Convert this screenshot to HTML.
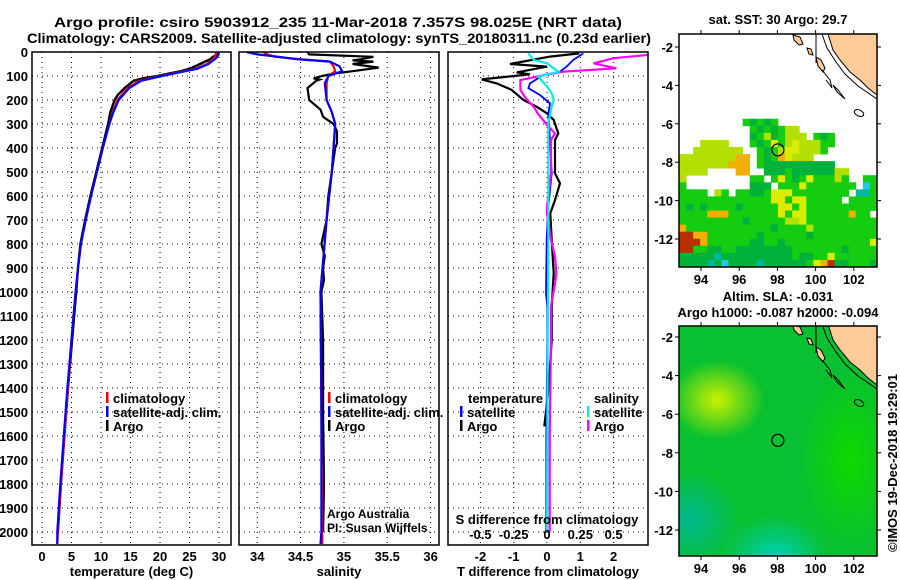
<!DOCTYPE html>
<html><head><meta charset="utf-8"><style>
body{margin:0;background:#fff}
svg{display:block}
text{font-family:"Liberation Sans",Arial,sans-serif;font-weight:bold;fill:#000}
</style></head><body>
<svg id="c" width="900" height="580" viewBox="0 0 900 580" xmlns="http://www.w3.org/2000/svg">
<text x="338" y="27" font-size="14" text-anchor="middle" textLength="568" lengthAdjust="spacingAndGlyphs">Argo profile: csiro 5903912_235 11-Mar-2018 7.357S 98.025E (NRT data)</text>
<text x="339" y="43" font-size="14" text-anchor="middle" textLength="624" lengthAdjust="spacingAndGlyphs">Climatology: CARS2009. Satellite-adjusted climatology: synTS_20180311.nc (0.23d earlier)</text>
<g id="g"></g>
</svg>
<script>
// ---------- data ----------
const depthTicks=[0,100,200,300,400,500,600,700,800,900,1000,1100,1200,1300,1400,1500,1600,1700,1800,1900,2000];
const tempTicks=[0,5,10,15,20,25,30];
const salTicks=[34,34.5,35,35.5,36];
const tdTicks=[-2,-1,0,1,2];
const sdTickLabels=["-0.5","-0.25","0","0.25","0.5"];
const sdTicks=[-0.5,-0.25,0,0.25,0.5];

const depthArgoT=[0,10,20,30,50,70,80,90,100,110,120,150,180,200,250,300,400,500,600,700,800,900,1000,1200,1400,1600,1800,2000];
const argoT=[29.8,29.9,29,28.5,26.8,25,23.5,21.5,19.5,17,15.5,14,12.8,12.3,11.6,11.2,10.2,9.2,8.2,7.3,6.5,6.1,5.8,5.1,4.4,3.8,3.2,2.7];
const depthClim=[0,10,20,30,50,70,90,100,120,150,200,250,300,400,500,600,700,800,900,1000,1200,1400,1600,1800,2000,2050];
const climT=[29.5,29.4,29.3,29,28,26,22,20,16.5,14.5,12.8,12,11.4,10.3,9.3,8.3,7.4,6.6,6.1,5.7,5.0,4.4,3.8,3.2,2.7,2.6];
const satT=[30,29.9,29.7,29.3,28.2,26.3,22.3,20.3,16.8,14.8,13,12.1,11.4,10.3,9.3,8.3,7.4,6.6,6.1,5.7,5.0,4.3,3.7,3.1,2.6,2.6];

const depthArgoS=[0,10,20,30,35,40,50,65,80,90,100,110,115,120,150,200,240,270,300,330,380,400,500,600,700,800,850,900,950,1000,1200,1500,1800,2000];
const argoS=[34.58,34.6,35.34,35.2,35.1,35.34,35.1,35.4,35.1,34.88,34.75,34.65,34.72,34.68,34.58,34.6,34.73,34.76,34.88,34.92,34.92,34.9,34.86,34.82,34.8,34.74,34.78,34.76,34.77,34.74,34.76,34.76,34.77,34.76];
const depthClimS=[0,10,20,30,40,60,80,100,130,200,250,300,400,500,700,1000,1500,2000,2050];
const climS=[34.07,34.12,34.2,34.5,34.84,34.88,34.9,34.82,34.8,34.8,34.86,34.9,34.88,34.86,34.8,34.73,34.74,34.75,34.75];
const satS=[33.88,34.0,34.25,34.45,34.84,34.95,34.98,34.82,34.78,34.8,34.86,34.9,34.88,34.86,34.8,34.73,34.74,34.74,34.73];

const depthArgoDT=[6,19,50,61,85,93,114,131,158,200,228,256,283,339,367,506,547,617,672,783,922,1061,1200,1400,1560];
const argoDT=[0.97,0.09,-1.11,0,-0.91,-0.51,-1.96,-1.51,-1.06,-0.71,-0.31,0,0.2,0.34,0.24,0.24,0.39,0.24,0.1,0.14,0.2,0.14,0.14,0.05,-0.08];
const depthSatDT=[6,33,61,82,96,131,151,179,214,256,367,506,644,783,1006,1061,1200,1600,2000];
const satDT=[1.09,0.79,0.59,0.39,-0.11,-0.51,-0.56,-0.21,0.09,0.04,0.09,0.14,0.04,-0.01,-0.03,0.01,0.01,-0.02,-0.02];
const depthArgoDS=[0,12,26,47,68,82,103,117,158,193,228,256,283,304,339,367,506,644,672,783,853,922,964,1061,1200,1600,2000];
const argoDS=[0.8,0.76,0.5,0.35,0.52,0.12,-0.08,-0.2,-0.2,-0.16,-0.1,-0.07,-0.03,0,0.06,0.03,0.03,0,0,0.03,0.06,0.07,0.06,0.03,0.03,0.02,0.02];
const depthSatDS=[6,33,47,68,82,103,144,172,200,228,297,506,783,1200,2000];
const satDS=[-0.14,-0.1,0,0.05,0.085,-0.065,0,0.035,0.05,0.035,0.01,0.01,0.01,0.005,0.0];

const lonTicks=[94,96,98,100,102];
const latTicks=[-2,-4,-6,-8,-10,-12];
const sstRows=[
"","","","","","","","","","","","",
".........gGgGg..............",
"..........gGgGgyy...........",
"..........GgyGgyyy.gGg......",
"...yyyy...gGgYgyYyyygg......",
"..yyyyyyy..gGgyYYyyyg.......",
"yyyyyyyyoo.gGgoYyyy.........",
"yyyyyyyooo.gGGGGGGGGGG......",
"yyyy....oo..GGGgGGGGGGyy....",
"y.........gg.gYgGgYgggyg..gg",
"g.........GGG.gggYggggggg.bg",
"gggg.yg.ggGGgYYYgggggggg.ccg",
"gggggggggggggYYgYYggggg.gggg",
"gGgGggggGgggggYYgYgggggggggg",
"ggggooogggggggYgYYggggggogg.",
"gggggggggGgggggyyYgggggggggg",
"oggggggggggggGggggyggggggggg",
"rroogggggggGggggggGggggggggg",
"rrroggggggGGggGggggggggggggY",
"rrggGGggGGGGGGGGgggggggGgggg",
"GGGGGcGGGGGGGGGGgGGggYgggggg",
"GGGGcGbGGGGcGGGGGGgYorGGgggG"];
const sstColors={g:"#14cc10",G:"#00b23c",y:"#b4e000",Y:"#dcec00",o:"#f0b000",r:"#b83000",c:"#00b8a0",b:"#20c8f0"};
const argoLon=98.025, argoLat=-7.357;

// ---------- helpers ----------
const NS="http://www.w3.org/2000/svg";
const G=document.getElementById('g');
function el(tag,attrs,parent){const e=document.createElementNS(NS,tag);for(const k in attrs)e.setAttribute(k,attrs[k]);(parent||G).appendChild(e);return e;}
function txt(s,x,y,size,anchor,parent,weight){const t=el('text',{x:x,y:y,'font-size':size,'text-anchor':anchor||'middle'},parent);if(weight)t.setAttribute('font-weight',weight);t.textContent=s;return t;}
const yD=d=>52+d*0.24;
const PT={x0:32,x1:231,v0:-1.695,v1:32.03};
const PS={x0:239,x1:439,v0:33.79,v1:36.097};
const PD={x0:448,x1:648,v0:-2.973,v1:3.033};
const PDS={x0:448,x1:648,v0:-0.743,v1:0.758};
const xf=(p,v)=>p.x0+(v-p.v0)/(p.v1-p.v0)*(p.x1-p.x0);

function panel(p,name,ticks,labels,title){
  const g=el('g',{});
  
  
  ticks.forEach(v=>{const x=xf(p,v);const l=el('line',{x1:x,x2:x,y1:52,y2:545,stroke:'#000','stroke-width':1,'stroke-dasharray':'1,4'},g);
    });
  depthTicks.forEach(d=>{const y=yD(d);const l=el('line',{x1:p.x0,x2:p.x1,y1:y,y2:y,stroke:'#000','stroke-width':1,'stroke-dasharray':'1,4'},g);
    });
  ticks.forEach((v,i)=>{const t=txt(labels[i],xf(p,v),561,13,'middle',g);
    });
  const tt=txt(title,(p.x0+p.x1)/2,576,13,'middle',g);
  
  return g;
}
function series(p,depths,vals,color,name,w,clipId){
  const pts=depths.map((d,i)=>xf(p,vals[i]).toFixed(1)+','+yD(d).toFixed(1)).join(' ');
  const pl=el('polyline',{points:pts,fill:'none',stroke:color,'stroke-width':w||2.2,'stroke-linejoin':'miter','clip-path':'url(#'+clipId+')'});
  
  
}
const defs=el('defs',{});
[['cT',PT],['cS',PS],['cD',PD]].forEach(([id,p])=>{const cp=el('clipPath',{id:id},defs);el('rect',{x:p.x0,y:52,width:p.x1-p.x0,height:493},cp);});

// panel 1
panel(PT,'temperature-panel',tempTicks,tempTicks.map(String),'temperature (deg C)');
series(PT,depthArgoT,argoT,'#000','argo-temperature-line',2.4,'cT');
series(PT,depthClim,climT,'#f00','climatology-temperature-line',2.2,'cT');
series(PT,depthClim,satT,'#00f','satellite-temperature-line',2.2,'cT');
// panel 2
panel(PS,'salinity-panel',salTicks,salTicks.map(String),'salinity');
series(PS,depthArgoS,argoS,'#000','argo-salinity-line',2.2,'cS');
series(PS,depthClimS,climS,'#f00','climatology-salinity-line',2.2,'cS');
series(PS,depthClimS,satS,'#00f','satellite-salinity-line',2.2,'cS');
// panel 3
panel(PD,'difference-panel',tdTicks,tdTicks.map(String),'T difference from climatology');
series(PD,depthArgoDT,argoDT,'#000','argo-t-difference-line',2.2,'cD');
series(PD,depthSatDT,satDT,'#00f','satellite-t-difference-line',1.8,'cD');
series(PDS,depthArgoDS,argoDS,'#f0f','argo-s-difference-line',2.2,'cD');
series(PDS,depthSatDS,satDS,'#0ee','satellite-s-difference-line',2.2,'cD');
sdTicks.forEach((v,i)=>{const t=txt(sdTickLabels[i],xf(PDS,v),539,13,'middle');
  });
{const t=txt('S difference from climatology',547,524,13,'middle');}

// frames
[PT,PS,PD].forEach(p=>{const r=el('rect',{x:p.x0,y:52,width:p.x1-p.x0,height:493,fill:'none',stroke:'#000','stroke-width':1.5});
  });
depthTicks.forEach(d=>{const t=txt(String(d),28,yD(d)+5,13,'end');
  });

// legends
function leg(x,y,color,label,nm){const g=el('g',{});
  el('rect',{x:x,y:y-6,width:2.5,height:11,fill:color},g);if(label)txt(label,x+7,y+5,13,'start',g);}
leg(106,398,'#f00','climatology','legend-climatology');
leg(106,412,'#00f','satellite-adj. clim.','legend-satellite-adj');
leg(106,426,'#000','Argo','legend-argo');
leg(328,398,'#f00','climatology','legend-climatology-sal');
leg(328,412,'#00f','satellite-adj. clim.','legend-satellite-adj-sal');
leg(328,426,'#000','Argo','legend-argo-sal');
{const t=txt('temperature',468,403,13,'start');}
leg(460,412,'#00f','satellite','legend-t-satellite');
leg(460,426,'#000','Argo','legend-t-argo');
{const t=txt('salinity',594,403,13,'start');}
leg(587,412,'#0ee','satellite','legend-s-satellite');
leg(587,426,'#f0f','Argo','legend-s-argo');
{const t=txt('Argo Australia',327,518,12,'start',null,'normal');
 const t2=txt('PI: Susan Wijffels',327,532,12,'start',null,'normal');}

// ---------- maps ----------
const MX0=679,MX1=877;
const lonX=lon=>701+(lon-94)*19.1;
function drawMap(top,bot,lat2y,name,fillFn,titles,titleY){
  const g=el('g',{});
  const cid='clip'+name;const cp=el('clipPath',{id:cid},defs);el('rect',{x:MX0,y:top,width:MX1-MX0,height:bot-top},cp);
  const inner=el('g',{'clip-path':'url(#'+cid+')'},g);
  fillFn(inner,top,bot,lat2y);
  const off=lat2y(-2)-47;
  const land=el('polygon',{points:[[828,34],[833,50],[840,60],[850,72],[860,80],[868,88],[877,95],[877,34]].map(p=>p[0]+','+(p[1]+off)).join(' '),fill:'#ffcc99',stroke:'#000','stroke-width':1},inner);
  
  el('polyline',{points:[[822,34],[827,48],[836,62],[845,74],[858,86],[877,99]].map(p=>p[0]+','+(p[1]+off)).join(' '),fill:'none',stroke:'#000','stroke-width':1},inner);
  [[[793,35],[800,37],[803,44],[799,45],[794,40]],[[807,48],[811,49],[813,55],[809,54]],[[816,57],[821,60],[825,68],[823,72],[818,66]]].forEach(isl=>{
    const p=el('polygon',{points:isl.map(q=>q[0]+','+(q[1]+off)).join(' '),fill:'#ffcc99',stroke:'#000','stroke-width':1},inner);
    });
  el('polyline',{points:[[822,70],[830,80],[832,88],[826,80]].map(p=>p[0]+','+(p[1]+off)).join(' '),fill:'none',stroke:'#000','stroke-width':1},inner);
  el('polyline',{points:[[833,85],[838,90],[845,99],[837,92],[833,85]].map(p=>p[0]+','+(p[1]+off)).join(' '),fill:'none',stroke:'#000','stroke-width':1},inner);
  el('ellipse',{cx:859,cy:113+off,rx:5,ry:3,fill:'none',stroke:'#000','stroke-width':1,transform:'rotate(25 859 '+(113+off)+')'},inner);
  el('line',{x1:816,x2:816,y1:top,y2:63+off,stroke:'#000','stroke-width':1},inner);
  const c=el('circle',{cx:lonX(argoLon),cy:lat2y(argoLat),r:6,fill:'none',stroke:'#000','stroke-width':1.2},g);
  
  el('rect',{x:MX0,y:top,width:MX1-MX0,height:bot-top,fill:'none',stroke:'#000','stroke-width':1.5},g);
  lonTicks.forEach(l=>{const x=lonX(l);el('line',{x1:x,x2:x,y1:top-4,y2:top,stroke:'#000'},g);el('line',{x1:x,x2:x,y1:bot,y2:bot+4,stroke:'#000'},g);
    const t=txt(String(l),x,bot+17,13,'middle',g);});
  latTicks.forEach(l=>{const y=lat2y(l);el('line',{x1:MX0-4,x2:MX0,y1:y,y2:y,stroke:'#000'},g);el('line',{x1:MX1,x2:MX1+4,y1:y,y2:y,stroke:'#000'},g);
    const t=txt(String(l),673,y+5,13,'end',g);});
  titles.forEach((s,i)=>{const t=txt(s,778,titleY[i],13,'middle',g);});
}
drawMap(34,267,lat=>47+(lat+2)*-19.2,'sst-map',(g,top,bot)=>{
  const cw=(MX1-MX0)/28,ch=(bot-top)/33;
  sstRows.forEach((row,r)=>{for(let c=0;c<row.length;c++){const col=sstColors[row[c]];if(!col)continue;
    const rc=el('rect',{x:MX0+c*cw,y:top+r*ch,width:cw+0.4,height:ch+0.4,fill:col},g);
    }});
},['sat. SST: 30 Argo: 29.7'],[24]);
drawMap(326,556,lat=>337+(lat+2)*-19.3,'sla-map',(g,top,bot)=>{
  const d=el('defs',{},g);
  const mk=(id,c)=>{const rg=el('radialGradient',{id:id},d);el('stop',{offset:'0','stop-color':c,'stop-opacity':1},rg);el('stop',{offset:'1','stop-color':c,'stop-opacity':0},rg);};
  mk('ylw','#ccf000');mk('tel','#00d0c0');mk('tel2','#00b890');mk('grn','#10d800');
  el('rect',{x:MX0,y:top,width:MX1-MX0,height:bot-top,fill:'#08c030'},g);
  el('ellipse',{cx:850,cy:460,rx:50,ry:90,fill:'url(#grn)'},g);
  el('ellipse',{cx:717,cy:400,rx:48,ry:40,fill:'url(#ylw)'},g);
  el('ellipse',{cx:775,cy:560,rx:55,ry:45,fill:'url(#tel)'},g);
  el('ellipse',{cx:690,cy:520,rx:50,ry:50,fill:'url(#tel2)'},g);
},['Altim. SLA: -0.031','Argo h1000: -0.087 h2000: -0.094'],[301,317]);
{const t=txt('©IMOS 19-Dec-2018 19:29:01',0,0,13,'middle',null,'normal');t.setAttribute('transform','translate(897 463) rotate(-90)');
 }
</script>
</body></html>
